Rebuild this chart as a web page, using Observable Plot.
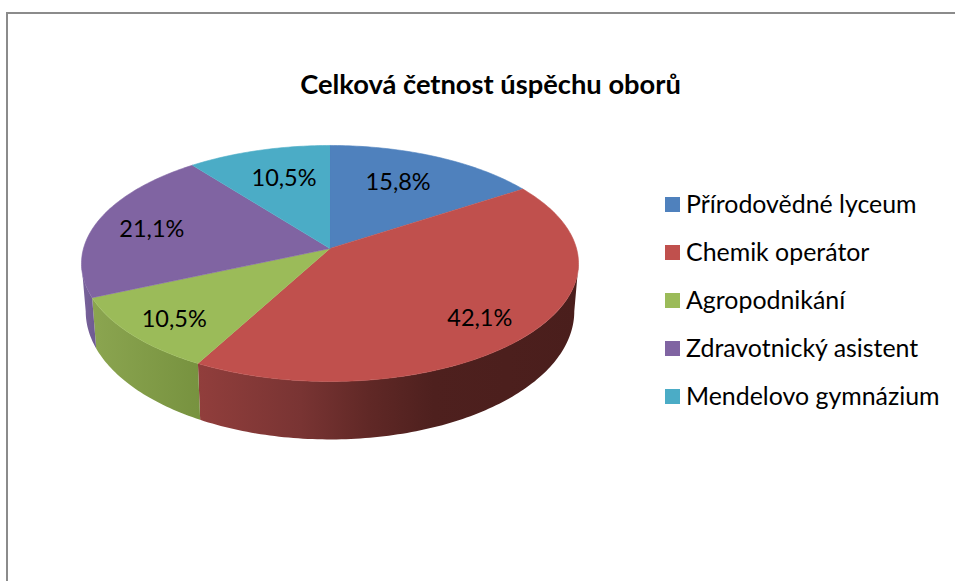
<!DOCTYPE html>
<html lang="cs">
<head>
<meta charset="utf-8">
<script src="https://cdn.jsdelivr.net/npm/d3@7"></script>
<script src="https://cdn.jsdelivr.net/npm/@observablehq/plot@0.6"></script>
<style>
html,body{margin:0;padding:0;background:#fff;overflow:hidden}
#page{position:relative;width:955px;height:581px;font-family:Lato,"Open Sans",sans-serif;color:#000}
#frame{position:absolute;left:6px;top:12px;right:0;bottom:0;border-top:2px solid #8b8b8b;border-left:2px solid #8b8b8b}
#chart{position:absolute;left:0;top:0}
#title{position:absolute;left:290px;width:401px;top:68px;text-align:center;font-weight:700;font-size:27.3px;line-height:32px;white-space:nowrap}
#legend{position:absolute;left:665px;top:180px}
.row{position:absolute;left:0;height:48px;display:flex;align-items:center;white-space:nowrap;font-size:24.9px}
.row span{position:relative;top:-1.5px}
.sw{width:15px;height:15px;margin-right:6px;flex:none}
</style>
</head>
<body>
<div id="page">
<div id="frame"></div>
<div id="chart"></div>
<div id="title"></div>
<div id="legend"></div>
</div>
<script>
const titleText = "Celková četnost úspěchu oborů";
const categories = ["Přírodovědné lyceum","Chemik operátor","Agropodnikání","Zdravotnický asistent","Mendelovo gymnázium"];
const counts = [3,8,2,4,2];
const percentLabels = ["15,8%","42,1%","10,5%","21,1%","10,5%"];
const topColors = ["#4f81bd","#c0504d","#9bbb59","#8064a2","#4bacc6"];
const sideStops = [
  [[0,"#3d6591"],[1,"#2f4e70"]],
  [[0,"#913e3c"],[0.27,"#793433"],[0.45,"#602826"],[0.62,"#4e201e"],[1,"#4a1e1c"]],
  [[0,"#8ba550"],[1,"#77923f"]],
  [[0,"#7a639c"],[1,"#6d5a90"]],
  [[0,"#3a8499"],[1,"#2f6b7c"]]
];
const labelRadius = [0.68,0.8,0.8,0.75,0.66];
const labelDx = [-6,-6,0,-3,3];
const labelDy = [-1,2,3,2,-3];

// perspective model of the tilted disc
const cx = 329.5, persp = 0.127, rx = 246.5;
const topDisc = {sx:1, cy:248, ry:116.1};
const lowDisc = {sx:0.983, cy:294.6, ry:126};
function project(theta, r, disc){
  const u = r*Math.sin(theta), v = r*Math.cos(theta), w = 1 + persp*v;
  return {x: cx + disc.sx*rx*u/w, y: disc.cy - disc.ry*v/w};
}
const total = d3.sum(counts);
let acc = 0;
const slices = counts.map((c,i)=>{
  const a0 = acc/total*2*Math.PI; acc += c; const a1 = acc/total*2*Math.PI;
  return {i,a0,a1,mid:(a0+a1)/2};
});
function arc(a0,a1,disc){
  const n = Math.max(2,Math.ceil((a1-a0)/(Math.PI/180)));
  return d3.range(n+1).map(k=>project(a0+(a1-a0)*k/n,1,disc));
}
function facePoints(s){ return [project(0,0,topDisc),...arc(s.a0,s.a1,topDisc)]; }
// the wall is visible between the two angles where the disc outline is tangent to the vertical
const tangent = Math.acos(-persp);
function sidePoints(s){
  const a0=Math.max(s.a0,tangent), a1=Math.min(s.a1,2*Math.PI-tangent);
  if(a1<=a0) return null;
  return [...arc(a0,a1,topDisc),...arc(a0,a1,lowDisc).reverse()];
}
const defsMark = ()=>{
  const defs = d3.create("svg:defs");
  sideStops.forEach((stops,i)=>{
    const g = defs.append("linearGradient").attr("id","side"+i).attr("x1",0).attr("x2",1).attr("y1",0).attr("y2",0);
    stops.forEach(([o,c])=>g.append("stop").attr("offset",o).attr("stop-color",c));
  });
  return defs.node();
};
const xy = {x:"x",y:"y"};
const marks = [
  defsMark,
  ...slices.map(s=>{const p=sidePoints(s);return p?Plot.line(p,{...xy,fill:`url(#side${s.i})`,stroke:"none",curve:"linear"}):null;}).filter(Boolean),
  ...slices.map(s=>Plot.line(facePoints(s),{...xy,fill:topColors[s.i],stroke:topColors[s.i],strokeWidth:0.6,curve:"linear"})),
  ...slices.map(s=>Plot.text([{...project(s.mid,labelRadius[s.i],topDisc),text:percentLabels[s.i]}],{...xy,text:"text",dx:labelDx[s.i],dy:labelDy[s.i],fontFamily:"Lato, 'Open Sans', sans-serif",fontSize:23.5,fill:"#000"}))
];
const plot = Plot.plot({
  width:955,height:581,margin:0,
  x:{domain:[0,955],range:[0,955],axis:null},
  y:{domain:[0,581],range:[0,581],axis:null},
  style:{background:"transparent",overflow:"visible"},
  marks
});
document.getElementById("chart").appendChild(plot);
document.getElementById("title").textContent = titleText;
const legend = d3.select("#legend");
categories.forEach((c,i)=>{
  const r = legend.append("div").attr("class","row").style("top",(i*48)+"px");
  r.append("div").attr("class","sw").style("background",topColors[i]);
  r.append("span").text(c);
});
</script>
</body>
</html>
